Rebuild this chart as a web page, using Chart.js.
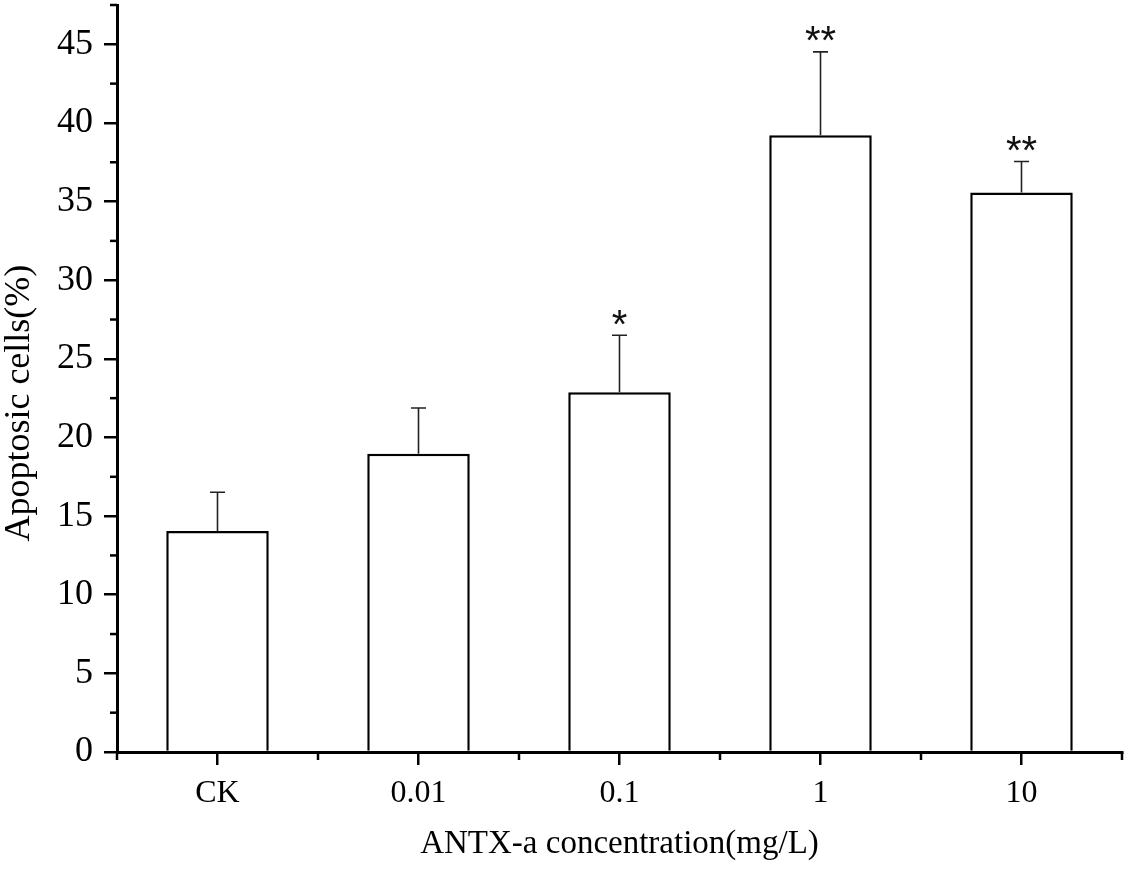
<!DOCTYPE html>
<html>
<head>
<meta charset="utf-8">
<script src="https://cdn.jsdelivr.net/npm/chart.js@4/dist/chart.umd.min.js"></script>
<style>
  html, body { margin: 0; padding: 0; background: #fff; }
  #wrap { width: 1128px; height: 872px; }
</style>
</head>
<body>
<div id="wrap"><canvas id="grafico" width="1128" height="872"></canvas></div>
<script>
// Datos
const categorias = ['CK', '0.01', '0.1', '1', '10'];
const apoptosis = [14.05, 18.97, 22.87, 39.22, 35.58];
const desviacion = [2.47, 2.90, 3.63, 5.30, 1.97];
const significancia = ['', '', '*', '**', '**'];

const Y_MIN = 0;
const Y_MAX = 47.5;
const Y_PASO = 5;
const TITULO_Y = 'Apoptosic cells(%)';

const SERIF = '"Liberation Serif", "Times New Roman", serif';

// Barras de error, asteriscos, ticks menores y título del eje Y
const extrasPlugin = {
    id: 'extras',
    afterDraw(chart) {
        const ctx = chart.ctx;
        const x = chart.scales.x;
        const y = chart.scales.y;
        const meta = chart.getDatasetMeta(0);
        const area = chart.chartArea;
        ctx.save();

        // barras de error
        ctx.strokeStyle = '#222';
        ctx.lineWidth = 1.6;
        meta.data.forEach((barra, i) => {
            const yTop = y.getPixelForValue(apoptosis[i]);
            const yErr = y.getPixelForValue(apoptosis[i] + desviacion[i]);
            ctx.beginPath();
            ctx.moveTo(barra.x, yTop);
            ctx.lineTo(barra.x, yErr);
            ctx.moveTo(barra.x - 7.5, yErr);
            ctx.lineTo(barra.x + 7.5, yErr);
            ctx.stroke();

            // asteriscos
            if (significancia[i]) {
                ctx.font = '40px "Liberation Sans", Arial, sans-serif';
                ctx.fillStyle = '#111';
                ctx.textAlign = 'center';
                ctx.textBaseline = 'alphabetic';
                const m = ctx.measureText(significancia[i]);
                const centro = yErr - 18;
                const base = centro + (m.actualBoundingBoxAscent - m.actualBoundingBoxDescent) / 2;
                ctx.fillText(significancia[i], barra.x, base);
            }
        });

        // ticks menores
        ctx.strokeStyle = '#000';
        ctx.lineWidth = 2.5;
        for (let v = Y_MIN + Y_PASO / 2; v <= Y_MAX + 0.01; v += Y_PASO) {
            const py = y.getPixelForValue(v);
            ctx.beginPath();
            ctx.moveTo(area.left, py);
            ctx.lineTo(area.left - 7, py);
            ctx.stroke();
        }
        for (let k = 0; k <= categorias.length; k++) {
            const px = x.getPixelForValue(k - 0.5);
            ctx.beginPath();
            ctx.moveTo(px, area.bottom);
            ctx.lineTo(px, area.bottom + 8);
            ctx.stroke();
        }

        // título del eje Y (algo más abajo que el centro, como en la figura)
        ctx.translate(20, y.getPixelForValue(Y_MAX * 0.467));
        ctx.rotate(-Math.PI / 2);
        ctx.font = '36px ' + SERIF;
        ctx.fillStyle = '#000';
        ctx.textAlign = 'center';
        ctx.textBaseline = 'middle';
        ctx.fillText(TITULO_Y, 0, 0);
        ctx.restore();
    }
};

const ctxGrafico = document.getElementById('grafico').getContext('2d');
const grafico = new Chart(ctxGrafico, {
    type: 'bar',
    data: {
        labels: categorias,
        datasets: [{
            label: TITULO_Y,
            data: apoptosis,
            backgroundColor: '#fff',
            borderColor: '#000',
            borderWidth: 2.5,
            borderSkipped: 'start',
            barPercentage: 0.51,
            categoryPercentage: 1
        }]
    },
    options: {
        responsive: false,
        animation: false,
        devicePixelRatio: 1,
        layout: { padding: { top: 5, right: 6, left: 0, bottom: 0 } },
        plugins: {
            legend: { display: false },
            tooltip: { enabled: false }
        },
        scales: {
            x: {
                afterFit(scale) {
                    scale.height = 120;
                    scale.paddingLeft = 0;
                    scale.paddingRight = 0;
                },
                grid: {
                    display: true,
                    drawOnChartArea: false,
                    offset: false,
                    drawTicks: true,
                    tickLength: 13,
                    tickWidth: 2.5,
                    tickColor: '#000',
                    lineWidth: 2.5,
                    color: '#000'
                },
                border: { display: true, color: '#000', width: 3 },
                ticks: {
                    color: '#000',
                    padding: 9,
                    font: { family: SERIF, size: 32 },
                    maxRotation: 0
                },
                title: {
                    display: true,
                    text: 'ANTX-a concentration(mg/L)',
                    color: '#000',
                    font: { family: SERIF, size: 33, lineHeight: 1 },
                    padding: { top: 0, bottom: 11 }
                }
            },
            y: {
                min: Y_MIN,
                max: Y_MAX,
                afterFit(scale) {
                    scale.width = 117;
                    scale.paddingTop = 0;
                    scale.paddingBottom = 0;
                },
                grid: {
                    display: true,
                    drawOnChartArea: false,
                    drawTicks: true,
                    tickLength: 13,
                    tickWidth: 2.5,
                    tickColor: '#000',
                    lineWidth: 2.5,
                    color: '#000'
                },
                border: { display: true, color: '#000', width: 3 },
                ticks: {
                    stepSize: Y_PASO,
                    includeBounds: false,
                    color: '#000',
                    padding: 11,
                    font: { family: SERIF, size: 36 }
                },
                title: { display: false }
            }
        }
    },
    plugins: [extrasPlugin]
});
</script>
</body>
</html>
